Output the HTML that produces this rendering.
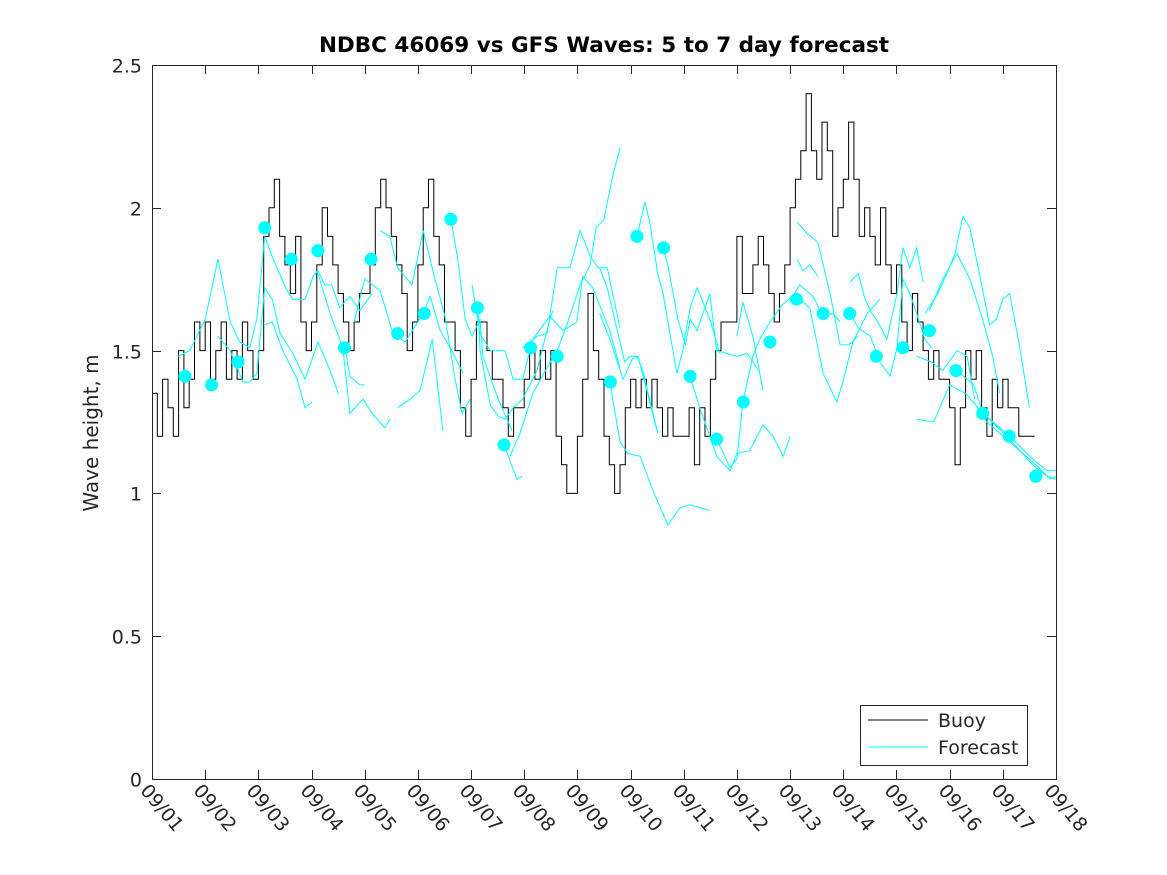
<!DOCTYPE html>
<html><head><meta charset="utf-8"><style>
html,body{margin:0;padding:0;background:#fff;}
svg{display:block;font-family:"DejaVu Sans","Liberation Sans",sans-serif;}
</style></head><body>
<svg id="chart" width="1167" height="875" viewBox="0 0 1167 875">
<rect x="0" y="0" width="1167" height="875" fill="#fff"/>
<text x="604" y="52" text-anchor="middle" font-size="21.5" font-weight="bold" fill="#000">NDBC 46069 vs GFS Waves: 5 to 7 day forecast</text>
<text transform="translate(98,433) rotate(-90)" text-anchor="middle" font-size="20" fill="#262626">Wave height, m</text>
<g id="plot"></g>
<g id="axes"></g>
<g id="legend">
<rect x="860.5" y="705.5" width="167" height="60" fill="#fff" stroke="#262626" stroke-width="1"/>
<line x1="868" y1="720" x2="928" y2="720" stroke="#000" stroke-width="1"/>
<text x="938" y="727" font-size="19" fill="#262626">Buoy</text>
<line x1="868" y1="747" x2="928" y2="747" stroke="#00ffff" stroke-width="1"/>
<text x="938" y="754" font-size="19" fill="#262626">Forecast</text>
</g>
</svg>
<script>
const xTickLabels=["09/01","09/02","09/03","09/04","09/05","09/06","09/07","09/08","09/09","09/10","09/11","09/12","09/13","09/14","09/15","09/16","09/17","09/18"];
const yTicks=[0,0.5,1,1.5,2,2.5];
const yTickLabels=["0","0.5","1","1.5","2","2.5"];
const buoyStep=0.1;
const buoyValues=[
1.35,1.2,1.4,1.3,1.2,1.5,1.3,1.4,1.6,1.5,
1.6,1.4,1.5,1.6,1.4,1.5,1.4,1.6,1.5,1.4,
1.5,1.9,2.0,2.1,1.9,1.8,1.7,1.9,1.6,1.5,
1.6,1.8,2.0,1.9,1.8,1.7,1.6,1.5,1.6,1.7,
1.7,1.8,2.0,2.1,2.0,1.9,1.8,1.7,1.5,1.6,
1.8,2.0,2.1,1.9,1.8,1.6,1.6,1.5,1.3,1.2,
1.4,1.6,1.6,1.5,1.4,1.4,1.3,1.2,1.3,1.3,
1.4,1.5,1.4,1.5,1.4,1.5,1.2,1.1,1.0,1.0,
1.2,1.4,1.7,1.5,1.4,1.2,1.1,1.0,1.1,1.3,
1.4,1.3,1.4,1.3,1.4,1.3,1.2,1.3,1.2,1.2,
1.2,1.3,1.1,1.3,1.2,1.4,1.5,1.6,1.6,1.6,
1.9,1.7,1.7,1.8,1.9,1.8,1.7,1.6,1.7,1.8,
2.0,2.1,2.2,2.4,2.2,2.1,2.3,2.2,1.9,2.0,
2.1,2.3,2.1,1.9,2.0,1.9,1.8,2.0,1.8,1.7,
1.8,1.6,1.5,1.7,1.6,1.5,1.4,1.5,1.4,1.4,
1.3,1.1,1.3,1.5,1.4,1.5,1.3,1.2,1.4,1.3,
1.4,1.3,1.3,1.2,1.2,1.2];
const dotStart=0.62, dotStep=0.5;
const dotValues=[1.41,1.38,1.46,1.93,1.82,1.85,1.51,1.82,1.56,1.63,1.96,1.65,1.17,1.51,1.48,null,1.39,1.90,1.86,1.41,1.19,1.32,1.53,1.68,1.63,1.63,1.48,1.51,1.57,1.43,1.28,1.20,1.06];
const fc1=[[0.49,1.48],[0.71,1.50],[1.0,1.61],[1.24,1.82],[1.47,1.60],[1.65,1.53],[1.84,1.51],[1.97,1.61],[2.12,1.90],[2.28,1.82],[2.54,1.71],[2.65,1.68],[2.88,1.68],[3.03,1.76],[3.12,1.78],[3.25,1.73],[3.38,1.73],[3.53,1.65],[3.72,1.69],[3.91,1.64],[4.14,1.70]];
const fc2=[[1.24,1.55],[1.47,1.50],[1.71,1.39],[1.84,1.39],[1.97,1.42],[2.12,1.72],[2.26,1.68],[2.41,1.56],[2.65,1.49],[2.88,1.40],[3.12,1.53],[3.35,1.43],[3.50,1.35]];
const fc3=[[2.12,1.59],[2.26,1.60],[2.46,1.50],[2.73,1.40],[2.88,1.30],[3.01,1.32]];
const fc4=[[3.12,1.77],[3.35,1.63],[3.59,1.51],[3.72,1.28],[3.97,1.33],[4.14,1.28],[4.38,1.23],[4.48,1.26]];
const fc5=[[3.63,1.51],[3.72,1.41],[3.91,1.38],[4.0,1.38]];
const fc6=[[4.29,1.92],[4.47,1.90],[4.62,1.79],[4.89,1.73],[5.10,1.92],[5.28,1.78],[5.51,1.62],[5.70,1.40],[5.83,1.28],[5.98,1.33]];
const fc7=[[3.8,1.60],[4.0,1.75],[4.29,1.71],[4.53,1.56],[4.76,1.53],[5.10,1.63],[5.23,1.69],[5.42,1.57],[5.64,1.50],[5.85,1.42]];
const fc8=[[4.62,1.30],[4.85,1.33],[5.04,1.36],[5.27,1.54],[5.47,1.22]];
const fc9=[[5.62,1.96],[5.75,1.82],[5.89,1.61],[6.02,1.55],[6.17,1.61],[6.22,1.48],[6.51,1.33],[6.77,1.22]];
const fc10=[[6.02,1.73],[6.17,1.56],[6.36,1.50],[6.64,1.50],[6.79,1.40],[6.97,1.40],[7.16,1.54],[7.48,1.62],[7.73,1.57],[7.99,1.60],[8.10,1.76],[8.29,1.72],[8.61,1.57],[8.80,1.44]];
const fc11=[[6.13,1.65],[6.17,1.50],[6.36,1.31],[6.51,1.27],[6.64,1.26],[6.79,1.30],[6.97,1.33],[7.24,1.43],[7.48,1.61],[7.54,1.64]];
const fc12=[[6.62,1.17],[6.86,1.05],[6.97,1.06]];
const fc13=[[6.97,1.51],[7.24,1.55],[7.43,1.56],[7.48,1.62],[7.62,1.79],[7.86,1.79],[8.05,1.92],[8.24,1.83],[8.39,1.79],[8.56,1.79],[8.80,1.58]];
const fc14=[[6.73,1.13],[6.92,1.21],[7.16,1.35],[7.43,1.44],[7.62,1.50],[7.80,1.59],[8.05,1.73],[8.24,1.80],[8.35,1.93],[8.50,1.96],[8.65,2.10],[8.80,2.21]];
const fc15=[[9.12,1.90],[9.27,2.02],[9.36,1.95],[9.51,1.77],[9.61,1.70],[9.87,1.42],[9.98,1.50],[10.12,1.65],[10.25,1.72],[10.49,1.61],[10.68,1.49]];
const fc16=[[9.61,1.86],[9.70,1.80],[9.89,1.61],[10.03,1.52],[10.12,1.61],[10.25,1.57],[10.49,1.70],[10.62,1.50],[10.99,1.48],[11.20,1.49],[11.40,1.43]];
const fc17=[[8.61,1.39],[8.80,1.18],[8.95,1.14],[9.18,1.13],[9.42,1.01],[9.70,0.89],[9.93,0.95],[10.12,0.96],[10.49,0.94]];
const fc18=[[8.42,1.79],[8.56,1.72],[8.89,1.46],[8.99,1.48],[9.12,1.48],[9.23,1.43],[9.50,1.22]];
const fc19=[[8.42,1.63],[8.61,1.54],[8.86,1.40],[9.03,1.47],[9.14,1.48],[9.51,1.21]];
const fc20=[[10.12,1.41],[10.30,1.30],[10.49,1.20],[10.62,1.13],[10.87,1.08],[11.00,1.14],[11.24,1.15],[11.49,1.24],[11.68,1.20],[11.87,1.13],[12.00,1.20]];
const fc21=[[10.62,1.19],[10.87,1.09],[11.00,1.12],[11.11,1.32],[11.30,1.48],[11.43,1.54],[11.62,1.60],[11.85,1.66],[12.05,1.69],[12.18,1.73],[12.43,1.69],[12.62,1.62],[12.81,1.63],[12.94,1.60]];
const fc22=[[11.0,1.55],[11.11,1.67],[11.30,1.55],[11.49,1.36]];
const fc23=[[12.13,1.95],[12.32,1.91],[12.52,1.88],[12.75,1.70],[12.94,1.52],[13.10,1.52],[13.28,1.55]];
const fc24=[[12.13,1.82],[12.24,1.78],[12.37,1.80],[12.52,1.76]];
const fc25=[[13.13,1.74],[13.28,1.77],[13.41,1.68],[13.54,1.63],[13.65,1.60],[13.82,1.54],[14.01,1.70],[14.12,1.86],[14.25,1.79],[14.38,1.86],[14.50,1.74]];
const fc26=[[13.13,1.63],[13.28,1.58],[13.51,1.55],[13.69,1.46],[13.88,1.41],[14.01,1.51],[14.12,1.75],[14.25,1.70],[14.38,1.63],[14.53,1.54],[14.66,1.51]];
const fc27=[[12.18,1.68],[12.37,1.65],[12.62,1.42],[12.88,1.32],[12.99,1.39],[13.18,1.53],[13.45,1.63],[13.69,1.68]];
const fc28=[[14.54,1.63],[14.78,1.70],[14.97,1.78],[15.10,1.84],[15.25,1.97],[15.38,1.93],[15.56,1.77],[15.75,1.59],[15.88,1.61],[16.00,1.68],[16.13,1.70],[16.32,1.51],[16.50,1.30]];
const fc29=[[14.62,1.64],[14.87,1.75],[15.14,1.84],[15.38,1.75],[15.62,1.61],[15.81,1.48],[15.94,1.35]];
const fc30=[[14.38,1.48],[14.66,1.46],[14.87,1.43],[15.14,1.50],[15.33,1.48],[15.47,1.33]];
const fc31=[[14.38,1.26],[14.70,1.25],[15.0,1.38],[15.3,1.35],[15.63,1.28],[16.13,1.20],[16.56,1.12],[16.83,1.08],[17.0,1.08]];
const fc32=[[15.14,1.43],[15.45,1.38],[15.63,1.28],[16.13,1.19],[16.56,1.10],[16.83,1.06],[17.0,1.05]];
const fc33=[[15.45,1.32],[15.7,1.25],[16.13,1.18],[16.56,1.11],[16.9,1.05],[17.0,1.06]];
const forecasts=[fc1,fc2,fc3,fc4,fc5,fc6,fc7,fc8,fc9,fc10,fc11,fc12,fc13,fc14,fc15,fc16,fc17,fc18,fc19,fc20,fc21,fc22,fc23,fc24,fc25,fc26,fc27,fc28,fc29,fc30,fc31,fc32,fc33];

const X0=152,X1=1056,Y0=779,Y1=65,DMAX=17,VMAX=2.5;
function xs(d){return X0+(X1-X0)*d/DMAX;}
function ys(v){return Y0-(Y0-Y1)*v/VMAX;}
const NS="http://www.w3.org/2000/svg";
const plot=document.getElementById('plot'), axes=document.getElementById('axes');
function mk(tag,attrs,parent){const e=document.createElementNS(NS,tag);for(const k in attrs)e.setAttribute(k,attrs[k]);parent.appendChild(e);return e;}

let d='';
buoyValues.forEach((v,i)=>{const x0=xs(i*buoyStep),x1=xs((i+1)*buoyStep);d+=(i===0?'M':'L')+x0.toFixed(1)+','+ys(v).toFixed(1)+'L'+x1.toFixed(1)+','+ys(v).toFixed(1);});
const bl=mk('path',{d:d,fill:'none',stroke:'#000','stroke-width':1},plot);



forecasts.forEach((f,i)=>{
  const p=f.map((pt,j)=>(j?'L':'M')+xs(pt[0]).toFixed(1)+','+ys(pt[1]).toFixed(1)).join('');
  const el=mk('path',{d:p,fill:'none',stroke:'#00ffff','stroke-width':1},plot);
  
  
});
dotValues.forEach((v,i)=>{
  if(v===null)return;
  const c=mk('circle',{cx:xs(dotStart+i*dotStep),cy:ys(v),r:6.5,fill:'#00ffff'},plot);
  
  
});

const fr=mk('rect',{x:X0+0.5,y:Y1+0.5,width:X1-X0,height:Y0-Y1,fill:'none',stroke:'#262626','stroke-width':1},axes);


yTicks.forEach((t,i)=>{
  const y=Math.round(ys(t))+0.5;
  const a=mk('line',{x1:X0,y1:y,x2:X0+9,y2:y,stroke:'#262626'},axes);
  
  
  const b=mk('line',{x1:X1-9,y1:y,x2:X1,y2:y,stroke:'#262626'},axes);
  
  
  const tx=mk('text',{x:X0-10,y:y+7,'text-anchor':'end','font-size':19,fill:'#262626'},axes);
  tx.textContent=yTickLabels[i];
  
  
});
xTickLabels.forEach((lab,i)=>{
  const x=Math.round(xs(i))+0.5;
  const a=mk('line',{x1:x,y1:Y0,x2:x,y2:Y0-9,stroke:'#262626'},axes);
  
  
  const b=mk('line',{x1:x,y1:Y1,x2:x,y2:Y1+9,stroke:'#262626'},axes);
  
  
  const tx=mk('text',{transform:'translate('+(x-13)+','+(Y0+12)+') rotate(50)','font-size':19,fill:'#262626'},axes);
  tx.textContent=lab;
  
  
});
</script>
</body></html>
